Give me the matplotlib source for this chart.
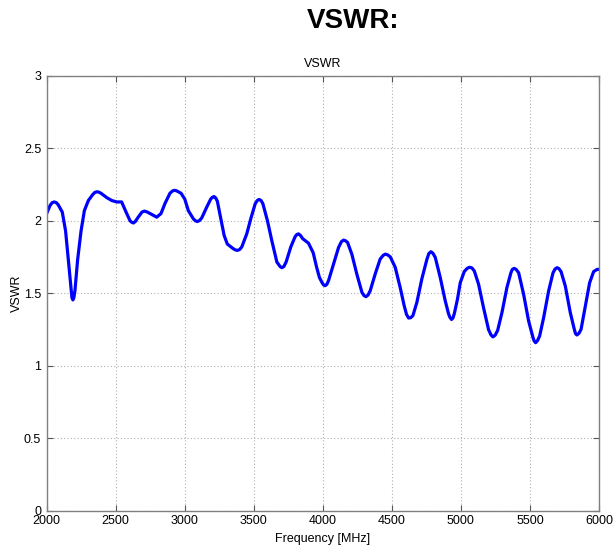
import matplotlib
matplotlib.use("Agg")
import matplotlib.pyplot as plt

plt.rcParams['font.family'] = ['Liberation Sans', 'DejaVu Sans']

freq_mhz = [2000, 2024, 2040, 2055, 2070, 2084, 2113, 2137, 2157, 2176, 2183, 2190, 2197,
            2205, 2224, 2249, 2273, 2302, 2333, 2348, 2362, 2377, 2393, 2435, 2471, 2507,
            2543, 2575, 2604, 2616, 2628, 2642, 2659, 2690, 2707, 2725, 2749, 2797, 2828,
            2857, 2893, 2910, 2925, 2940, 2954, 2973, 3000, 3026, 3062, 3077, 3091, 3107,
            3123, 3159, 3188, 3200, 3212, 3224, 3236, 3261, 3285, 3308, 3348, 3365, 3381,
            3397, 3413, 3449, 3478, 3510, 3525, 3539, 3552, 3565, 3599, 3630, 3667, 3690,
            3703, 3718, 3734, 3768, 3799, 3811, 3823, 3837, 3855, 3896, 3930, 3955, 3975,
            3993, 4005, 4017, 4029, 4041, 4077, 4114, 4135, 4150, 4165, 4179, 4210, 4246,
            4283, 4298, 4312, 4327, 4343, 4379, 4415, 4437, 4452, 4468, 4488, 4524, 4560,
            4589, 4606, 4621, 4636, 4652, 4681, 4717, 4754, 4768, 4783, 4798, 4814, 4850,
            4886, 4910, 4920, 4932, 4942, 4952, 4975, 4995, 5024, 5045, 5063, 5080, 5097,
            5128, 5164, 5200, 5218, 5232, 5248, 5266, 5297, 5333, 5362, 5372, 5386, 5400,
            5418, 5454, 5490, 5522, 5530, 5541, 5555, 5570, 5599, 5635, 5667, 5682, 5696,
            5710, 5725, 5756, 5792, 5821, 5830, 5840, 5855, 5870, 5901, 5932, 5961, 5986,
            6000]
vswr = [2.05, 2.105, 2.125, 2.13, 2.125, 2.11, 2.06, 1.93, 1.73, 1.54, 1.47, 1.455, 1.47,
        1.52, 1.73, 1.93, 2.07, 2.14, 2.18, 2.195, 2.20, 2.198, 2.19, 2.16, 2.14, 2.13,
        2.13, 2.06, 2.00, 1.99, 1.985, 1.995, 2.02, 2.06, 2.067, 2.062, 2.05, 2.025, 2.05,
        2.12, 2.19, 2.205, 2.21, 2.207, 2.20, 2.19, 2.15, 2.07, 2.014, 2.0, 1.995, 2.002,
        2.02, 2.094, 2.15, 2.162, 2.167, 2.158, 2.135, 2.014, 1.90, 1.84, 1.81, 1.80, 1.796,
        1.802, 1.82, 1.91, 2.014, 2.117, 2.14, 2.147, 2.14, 2.12, 2.00, 1.865, 1.716, 1.685,
        1.677, 1.685, 1.716, 1.82, 1.89, 1.905, 1.91, 1.90, 1.876, 1.846, 1.78, 1.68, 1.61,
        1.576, 1.558, 1.553, 1.562, 1.587, 1.70, 1.817, 1.857, 1.867, 1.862, 1.851, 1.77, 1.633,
        1.507, 1.485, 1.477, 1.488, 1.518, 1.633, 1.736, 1.762, 1.77, 1.766, 1.752, 1.68, 1.541,
        1.415, 1.355, 1.33, 1.332, 1.346, 1.438, 1.60, 1.736, 1.775, 1.787, 1.775, 1.748, 1.61,
        1.45, 1.36, 1.335, 1.32, 1.33, 1.36, 1.46, 1.573, 1.65, 1.672, 1.68, 1.675, 1.654,
        1.562, 1.40, 1.25, 1.213, 1.20, 1.212, 1.245, 1.367, 1.54, 1.642, 1.665, 1.672, 1.665,
        1.642, 1.493, 1.31, 1.195, 1.172, 1.16, 1.175, 1.206, 1.333, 1.516, 1.642, 1.668, 1.677,
        1.67, 1.65, 1.55, 1.367, 1.252, 1.222, 1.213, 1.225, 1.252, 1.413, 1.573, 1.65, 1.665,
        1.665]

x_ticks = [2000, 2500, 3000, 3500, 4000, 4500, 5000, 5500, 6000]
y_ticks = [0, 0.5, 1, 1.5, 2, 2.5, 3]
y_tick_labels = ['0', '0.5', '1', '1.5', '2', '2.5', '3']

fig = plt.figure(figsize=(6.14, 5.51), dpi=100)
ax = fig.add_axes([0.076, 0.0726, 0.8996, 0.79])

ax.plot(freq_mhz, vswr, color='#0000ff', linewidth=2.3,
        solid_joinstyle='round', solid_capstyle='round')

ax.set_xlim(2000, 6000)
ax.set_ylim(0, 3)
ax.set_xticks(x_ticks)
ax.set_xticklabels([str(t) for t in x_ticks])
ax.set_yticks(y_ticks)
ax.set_yticklabels(y_tick_labels)

ax.grid(True, linestyle=(0, (1, 2)), color='#b0b0b0', linewidth=0.8)
ax.tick_params(direction='in', top=True, right=True, length=4, width=0.8,
               color='#555555', labelsize=9, labelcolor='black')
ax.tick_params(axis='x', pad=3)
ax.tick_params(axis='y', pad=4)
for s in ax.spines.values():
    s.set_color('#808080')
    s.set_linewidth(1.0)

ax.set_title('VSWR', fontsize=9, pad=6)
ax.set_xlabel('Frequency [MHz]', fontsize=9, labelpad=4)
ax.set_ylabel('VSWR', fontsize=9, labelpad=1)

fig.text(0.575, 0.962, 'VSWR:', fontsize=20, fontweight='bold', ha='center', va='center')

fig.savefig('out.png', dpi=100)
